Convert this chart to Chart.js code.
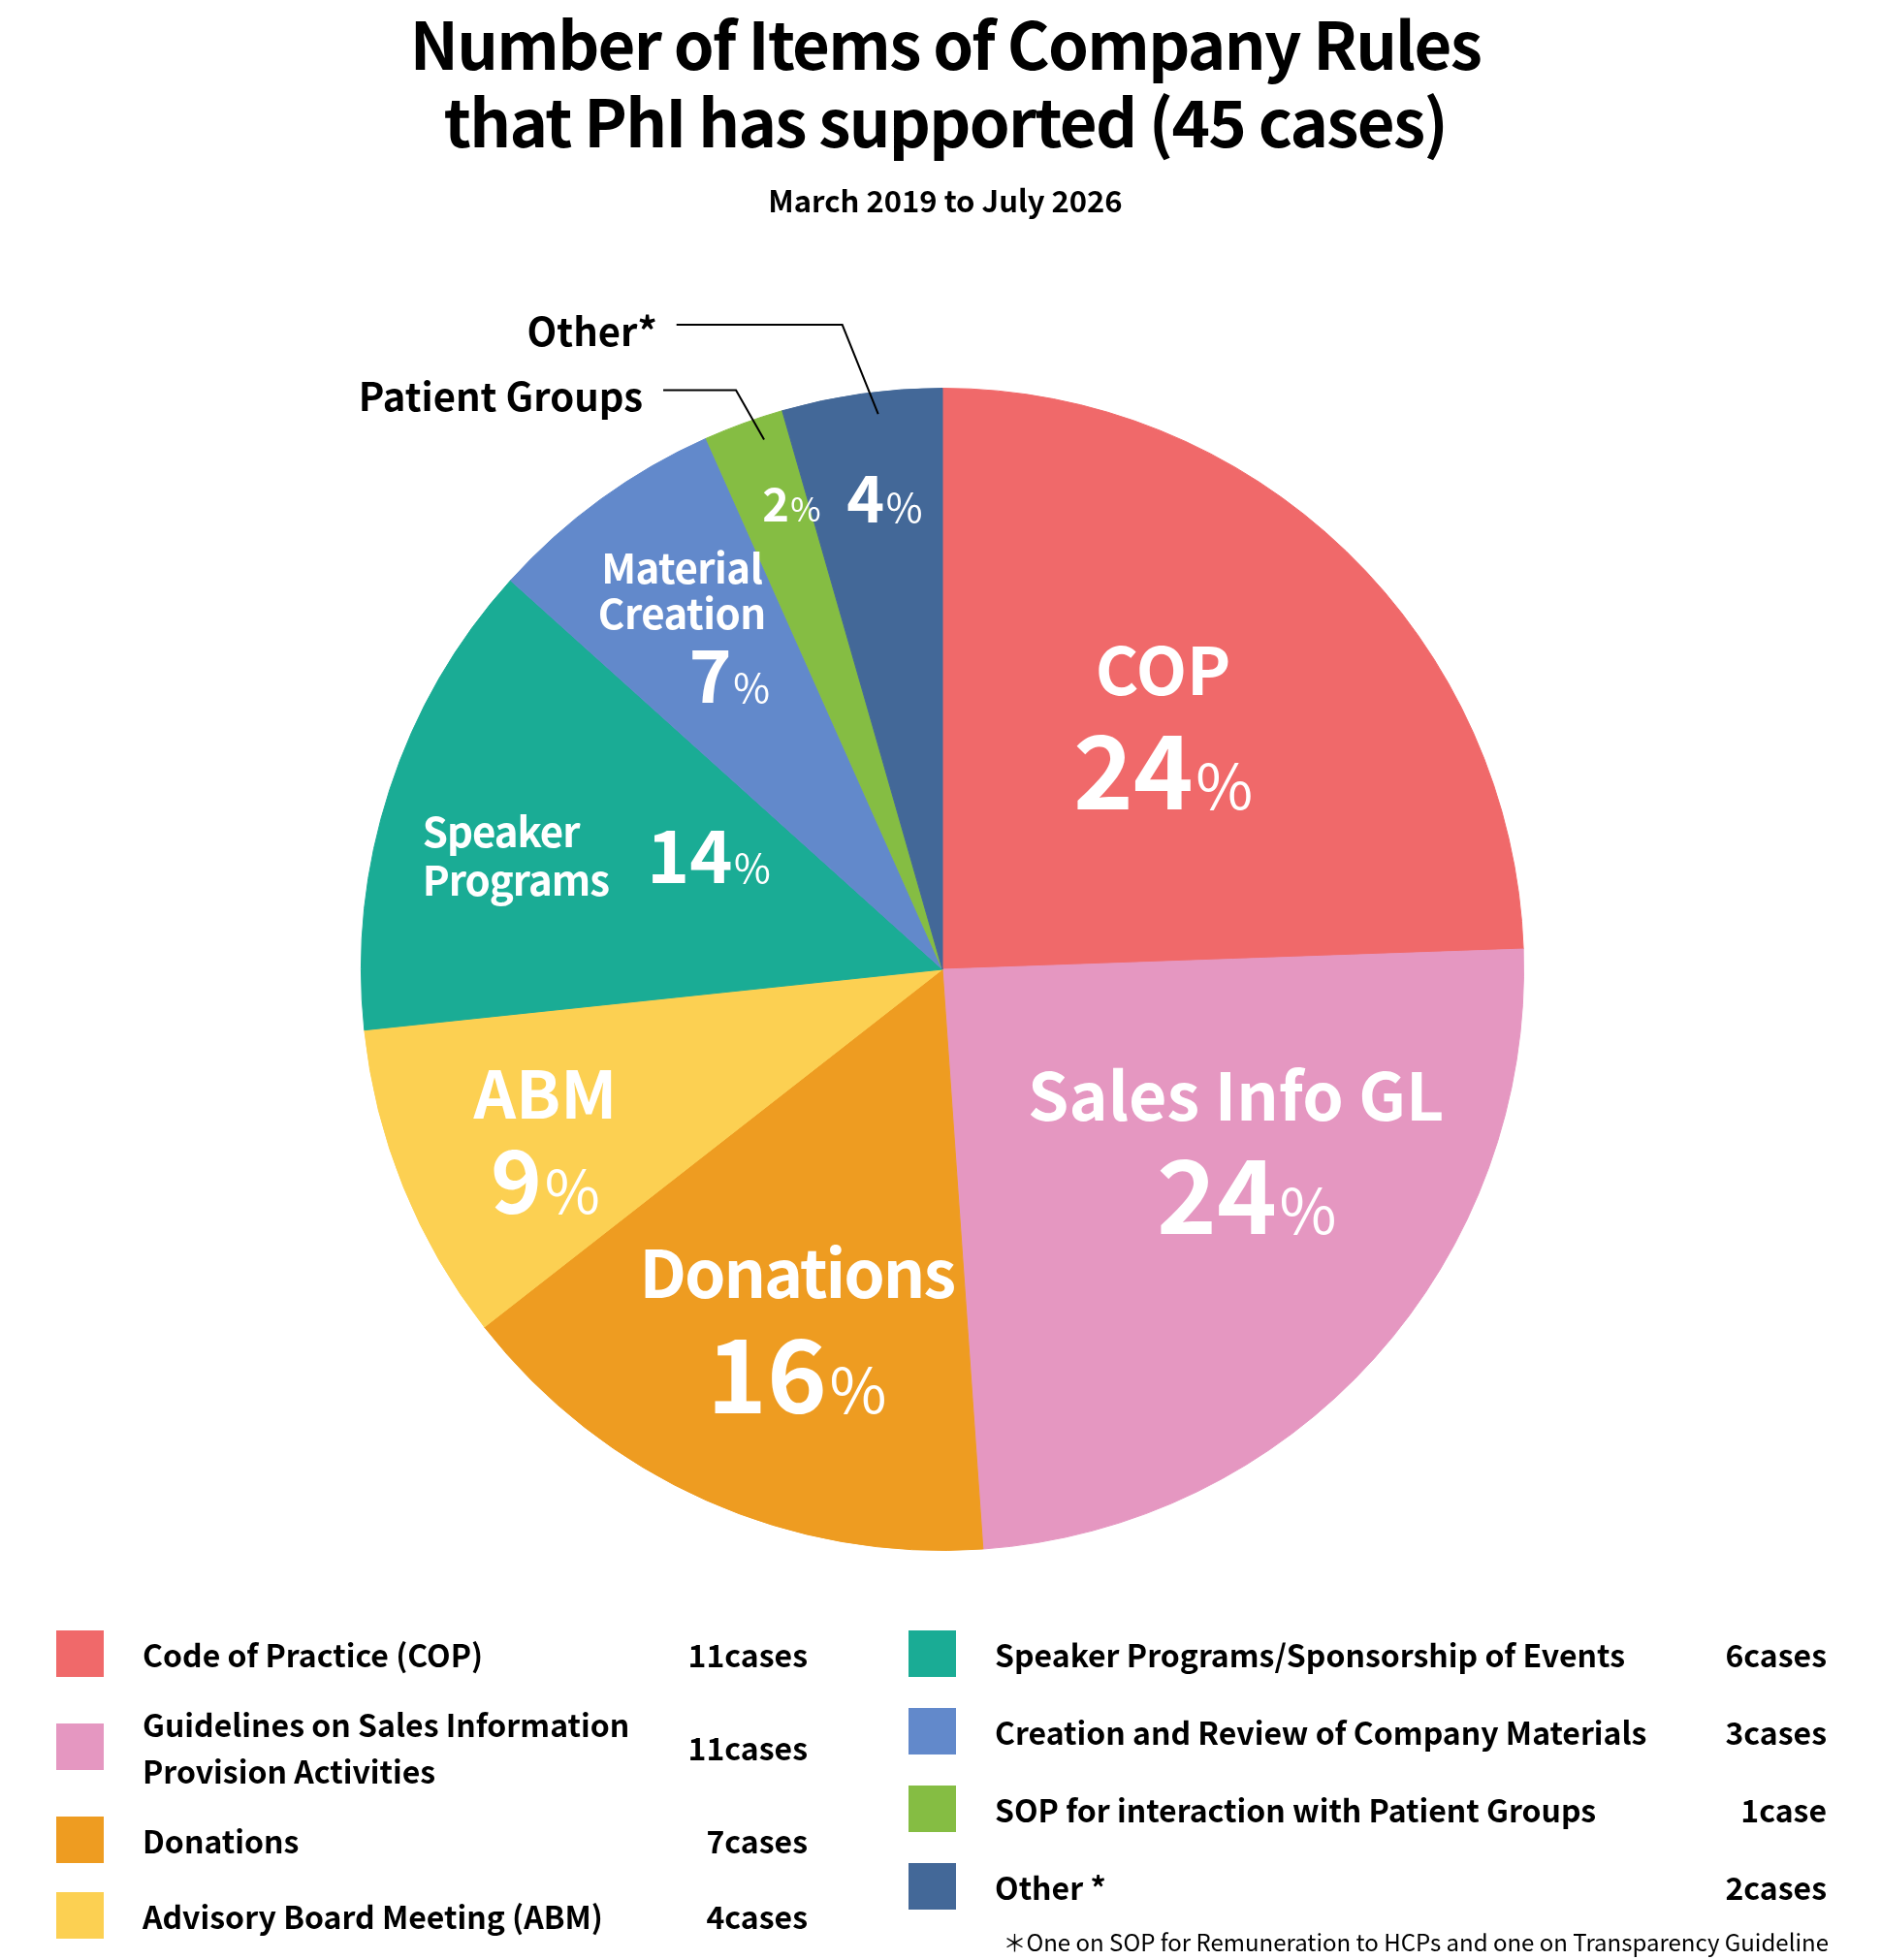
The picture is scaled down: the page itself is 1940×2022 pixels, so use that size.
<!DOCTYPE html>
<html>
<head>
<meta charset="utf-8">
<script src="https://cdn.jsdelivr.net/npm/chart.js@4.4.1/dist/chart.umd.min.js"></script>
<style>
  html, body { margin: 0; padding: 0; background: #fff; }
  body { width: 1940px; height: 2022px; position: relative; overflow: hidden;
         font-family: "Noto Sans CJK JP", "Noto Sans", sans-serif; color: #000; }
  #wrap { position: absolute; left: 0; top: 0; width: 1940px; height: 2022px; }
  .title { position: absolute; left: 0; width: 1950px; text-align: center; font-weight: 700; }
  #t1 { top: 3px; font-size: 67px; line-height: 80px; letter-spacing: -1.7px; }
  #t2 { top: 190px; font-size: 31px; line-height: 31px; }
  .col { position: absolute; top: 1682px; display: flex; flex-direction: column; }
  #colL { left: 58px; width: 775px; gap: 24px; }
  #colL .item:last-child { margin-top: 6px; }
  #colR { left: 937px; width: 947px; gap: 32px; }
  .item { display: flex; align-items: center; font-size: 32px; line-height: 48px; font-weight: 700; }
  .box { width: 49px; height: 48px; flex: none; margin-right: 40px; }
  .lbl { flex: 1; white-space: pre-line; }
  .cnt { flex: none; text-align: right; }
  #note { position: absolute; right: 54px; top: 1991px; font-size: 24px; line-height: 24px; }
</style>
</head>
<body>
<div id="wrap"><canvas id="pieChart"></canvas></div>
<div class="title" id="t1">Number of Items of Company Rules<br>that PhI has supported (45 cases)</div>
<div class="title" id="t2">March 2019 to July 2026</div>
<div class="col" id="colL"></div>
<div class="col" id="colR"></div>
<div id="note">＊One on SOP for Remuneration to HCPs and one on Transparency Guideline</div>
<script>
// data
const categories = [
    'Code of Practice (COP)',
    'Guidelines on Sales Information\nProvision Activities',
    'Donations',
    'Advisory Board Meeting (ABM)',
    'Speaker Programs/Sponsorship of Events',
    'Creation and Review of Company Materials',
    'SOP for interaction with Patient Groups',
    'Other *'
];
const cases = [11, 11, 7, 4, 6, 3, 1, 2];
const percents = [24, 24, 16, 9, 14, 7, 2, 4];
const sliceNames = [['COP'], ['Sales Info GL'], ['Donations'], ['ABM'], ['Speaker', 'Programs'], ['Material', 'Creation'], [], []];
const callouts = [null, null, null, null, null, null, 'Patient Groups', 'Other*'];
const colors = ['#F0696A', '#E597C1', '#EE9C21', '#FCD052', '#1AAC95', '#6289CB', '#85BD43', '#436898'];

const FONT = '"Noto Sans CJK JP", "Noto Sans", sans-serif';
const CAP = 0.733;

// label placement: fraction of radius and angle shift (deg) from slice middle
const labelStyles = [
    { frac: 0.563, shift: -1.6, nameSize: 68, numSize: 105, signSize: 64, gap: 41 },
    { frac: 0.596, shift: -9.9, nameSize: 68, numSize: 105, signSize: 64, gap: 40, pctDx: 11 },
    { frac: 0.672, shift: -2.1, nameSize: 68, numSize: 105, signSize: 64, gap: 42, ls: -2 },
    { frac: 0.745, shift: -1.5, nameSize: 68, numSize: 90, signSize: 62, gap: 32 },
    { frac: 0.626, shift: 0.1, nameSize: 42, numSize: 75, signSize: 41, side: true, colGap: 39, pitch: 50, ls: -1 },
    { frac: 0.738, shift: -1.4, nameSize: 42, numSize: 75, signSize: 41, gap: 21, pitch: 47, pctDx: 49, ls: -0.5 },
    { frac: 0.84, shift: 2, numSize: 47, signSize: 34 },
    { frac: 0.816, shift: 1, numSize: 66, signSize: 41 }
];
const calloutStyles = {
    6: { frac: 0.962, shift: 1.4, ex: -29, ey: -51, len: 75, pad: 21 },
    7: { frac: 0.962, shift: 1.4, ex: -37, ey: -92, len: 171, pad: 20 }
};

function buildLegend() {
    categories.forEach(function (name, i) {
        const item = document.createElement('div');
        item.className = 'item';
        const n = cases[i];
        item.innerHTML = '<div class="box" style="background:' + colors[i] + '"></div>' +
            '<div class="lbl"></div><div class="cnt">' + n + (n === 1 ? 'case' : 'cases') + '</div>';
        item.querySelector('.lbl').textContent = name;
        document.getElementById(i < 4 ? 'colL' : 'colR').appendChild(item);
    });
}

const sliceLabels = {
    id: 'sliceLabels',
    afterDatasetsDraw(chart) {
        const ctx = chart.ctx;
        const arcs = chart.getDatasetMeta(0).data;
        ctx.save();
        ctx.textBaseline = 'alphabetic';
        arcs.forEach(function (arc, i) {
            const p = arc.getProps(['x', 'y', 'startAngle', 'endAngle', 'outerRadius'], true);
            const st = labelStyles[i];
            const a = (p.startAngle + p.endAngle) / 2 + st.shift * Math.PI / 180;
            const ax = p.x + Math.cos(a) * p.outerRadius * st.frac;
            const ay = p.y + Math.sin(a) * p.outerRadius * st.frac;
            const names = sliceNames[i];
            const numTxt = String(percents[i]);

            ctx.letterSpacing = '0px';
            ctx.font = '700 ' + st.numSize + 'px ' + FONT;
            const wNum = ctx.measureText(numTxt).width;
            ctx.font = '400 ' + st.signSize + 'px ' + FONT;
            const wSign = ctx.measureText('%').width;
            const sp = st.signSize * 0.04;
            const wPct = wNum + sp + wSign;
            const capP = st.numSize * CAP;

            ctx.fillStyle = '#fff';
            const drawPct = function (x, base) {
                ctx.letterSpacing = '0px';
                ctx.textAlign = 'left';
                ctx.font = '700 ' + st.numSize + 'px ' + FONT;
                ctx.fillText(numTxt, x, base);
                ctx.font = '400 ' + st.signSize + 'px ' + FONT;
                ctx.fillText('%', x + wNum + sp, base);
            };

            if (!names.length) {
                drawPct(ax - wPct / 2, ay + capP / 2);
                return;
            }
            const capN = st.nameSize * CAP;
            const pitch = st.pitch || capN;
            const nameH = (names.length - 1) * pitch + capN;
            ctx.font = '700 ' + st.nameSize + 'px ' + FONT;
            ctx.letterSpacing = (st.ls || 0) + 'px';

            if (st.side) {
                const wName = Math.max.apply(null, names.map(function (t) { return ctx.measureText(t).width; }));
                const left = ax - (wName + st.colGap + wPct) / 2;
                const top = ay - nameH / 2;
                ctx.textAlign = 'left';
                names.forEach(function (t, k) { ctx.fillText(t, left, top + k * pitch + capN); });
                drawPct(left + wName + st.colGap, ay + capP / 2);
            } else {
                const H = nameH + st.gap + capP;
                const top = ay - H / 2;
                ctx.textAlign = 'center';
                names.forEach(function (t, k) { ctx.fillText(t, ax, top + k * pitch + capN); });
                drawPct(ax + (st.pctDx || 0) - wPct / 2, top + H);
            }
        });

        // leader lines with outside labels
        ctx.letterSpacing = '0px';
        ctx.strokeStyle = '#000';
        ctx.lineWidth = 2;
        ctx.fillStyle = '#000';
        ctx.font = '700 40px ' + FONT;
        ctx.textAlign = 'right';
        Object.keys(calloutStyles).forEach(function (k) {
            const i = Number(k);
            const cs = calloutStyles[i];
            const p = arcs[i].getProps(['x', 'y', 'startAngle', 'endAngle', 'outerRadius'], true);
            const a = (p.startAngle + p.endAngle) / 2 + cs.shift * Math.PI / 180;
            const x0 = p.x + Math.cos(a) * p.outerRadius * cs.frac;
            const y0 = p.y + Math.sin(a) * p.outerRadius * cs.frac;
            const x1 = x0 + cs.ex, y1 = y0 + cs.ey;
            ctx.beginPath();
            ctx.moveTo(x0, y0);
            ctx.lineTo(x1, y1);
            ctx.lineTo(x1 - cs.len, y1);
            ctx.stroke();
            ctx.fillText(callouts[i], x1 - cs.len - cs.pad, y1 + 21.5);
        });
        ctx.restore();
    }
};

document.addEventListener('DOMContentLoaded', function () {
    buildLegend();
    const ctx = document.getElementById('pieChart').getContext('2d');
    new Chart(ctx, {
        type: 'pie',
        data: {
            labels: categories,
            datasets: [{
                data: cases,
                backgroundColor: colors,
                borderColor: colors,
                borderWidth: 1
            }]
        },
        options: {
            responsive: true,
            maintainAspectRatio: false,
            animation: false,
            layout: { padding: { left: 372, right: 368, top: 400, bottom: 422 } },
            plugins: {
                legend: { display: false },
                tooltip: { enabled: false },
                title: { display: false }
            }
        },
        plugins: [sliceLabels]
    });
});
</script>
</body>
</html>
